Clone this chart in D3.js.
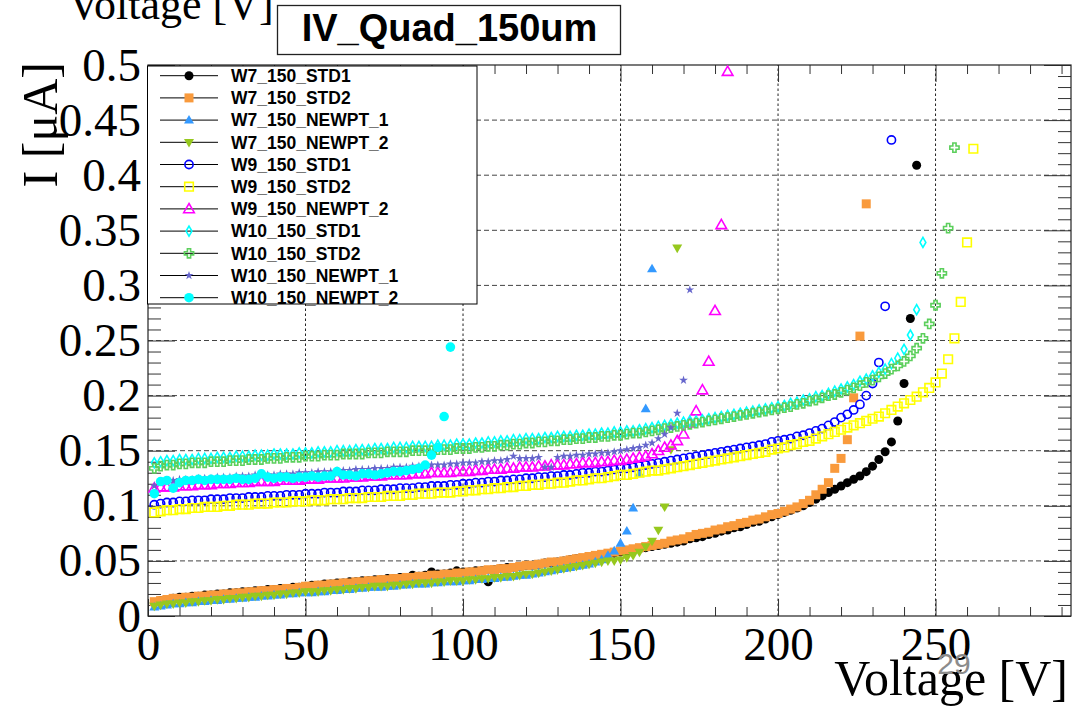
<!DOCTYPE html>
<html>
<head>
<meta charset="utf-8">
<script src="https://cdn.jsdelivr.net/npm/d3@7"></script>
<style>
  html, body { margin: 0; padding: 0; background: #fff; }
  svg { display: block; }
</style>
</head>
<body>
<svg id="chart" width="1077" height="707"></svg>
<script>
// ---- data: bias voltage steps [V] and leakage current [uA] per sensor ----
const voltages = [2,4,6,8,10,12,14,16,18,20,22,24,26,28,30,32,34,36,38,40,42,44,46,48,50,52,54,56,58,60,62,64,66,68,70,72,74,76,78,80,82,84,86,88,90,92,94,96,98,100,102,104,106,108,110,112,114,116,118,120,122,124,126,128,130,132,134,136,138,140,142,144,146,148,150,152,154,156,158,160,162,164,166,168,170,172,174,176,178,180,182,184,186,188,190,192,194,196,198,200,202,204,206,208,210,212,214,216,218,220,222,224,226,228,230,232,234,236,238,240,242,244,246,248,250,252,254,256,258,260,262];

const seriesNames = ["W7_150_STD1","W7_150_STD2","W7_150_NEWPT_1","W7_150_NEWPT_2","W9_150_STD1","W9_150_STD2","W9_150_NEWPT_2","W10_150_STD1","W10_150_STD2","W10_150_NEWPT_1","W10_150_NEWPT_2"];

const w7Std1 = [
  .012,.014,.015,.016,.017,.017,.018,.018,.019,.019,
  .020,.020,.021,.021,.022,.022,.023,.023,.024,.024,
  .025,.025,.026,.026,.027,.028,.028,.029,.029,.030,
  .030,.031,.031,.032,.032,.033,.033,.034,.034,.035,
  .035,.037,.036,.037,.040,.038,.038,.039,.041,.040,
  .040,.041,.041,.031,.042,.043,.044,.044,.045,.046,
  .046,.047,.048,.048,.049,.050,.051,.052,.052,.053,
  .054,.055,.056,.057,.058,.059,.060,.061,.062,.063,
  .064,.065,.066,.067,.068,.070,.071,.072,.074,.075,
  .077,.078,.080,.081,.083,.085,.086,.088,.090,.092,
  .094,.096,.098,.100,.103,.106,.109,.112,.115,.118,
  .121,.124,.127,.131,.136,.142,.149,.158,.177,.211,
  .270,.409];

const w7Std2 = [
  .013,.014,.015,.016,.016,.017,.017,.018,.018,.019,
  .019,.020,.020,.021,.021,.022,.022,.023,.023,.024,
  .024,.025,.025,.026,.027,.027,.028,.028,.029,.029,
  .030,.030,.031,.031,.032,.032,.033,.033,.034,.034,
  .035,.035,.036,.036,.037,.037,.038,.038,.039,.039,
  .040,.040,.041,.042,.042,.043,.043,.044,.045,.046,
  .046,.047,.048,.049,.049,.050,.051,.052,.053,.054,
  .055,.056,.057,.058,.059,.060,.061,.062,.063,.064,
  .065,.066,.068,.069,.070,.072,.074,.075,.076,.078,
  .079,.081,.082,.084,.085,.087,.088,.090,.092,.093,
  .095,.097,.099,.102,.105,.110,.115,.121,.134,.143,
  .160,.198,.254,.374];

const w7Newpt1 = [
  .008,.009,.010,.011,.011,.012,.012,.013,.013,.014,
  .014,.015,.015,.016,.016,.017,.017,.018,.018,.019,
  .019,.020,.020,.021,.021,.021,.022,.022,.023,.023,
  .024,.024,.025,.025,.026,.026,.026,.027,.027,.028,
  .028,.029,.029,.029,.030,.030,.031,.031,.031,.032,
  .032,.033,.033,.034,.034,.035,.035,.036,.037,.037,
  .038,.039,.040,.041,.042,.043,.044,.045,.046,.047,
  .049,.051,.055,.059,.066,.077,.098,.129,.188,.315];

const w7Newpt2 = [
  .009,.010,.011,.011,.012,.012,.013,.013,.014,.014,
  .015,.015,.016,.016,.017,.017,.018,.018,.019,.019,
  .020,.020,.021,.021,.022,.022,.022,.023,.023,.024,
  .024,.025,.025,.026,.026,.027,.027,.027,.028,.028,
  .029,.029,.030,.030,.030,.031,.031,.032,.032,.032,
  .033,.033,.034,.034,.035,.035,.036,.036,.037,.038,
  .038,.039,.040,.041,.042,.043,.044,.045,.046,.047,
  .048,.049,.050,.050,.051,.053,.055,.058,.063,.068,
  .078,.099,.151,.334];

const w9Std1 = [
  .101,.102,.103,.103,.104,.104,.105,.105,.105,.106,
  .106,.106,.107,.107,.107,.108,.108,.108,.109,.109,
  .109,.110,.110,.110,.111,.111,.111,.112,.112,.112,
  .113,.113,.113,.114,.114,.114,.115,.115,.115,.116,
  .116,.116,.117,.117,.118,.118,.118,.119,.119,.120,
  .120,.121,.121,.122,.122,.123,.123,.124,.124,.125,
  .125,.126,.126,.127,.127,.128,.128,.129,.130,.130,
  .131,.131,.132,.133,.134,.134,.135,.136,.137,.138,
  .139,.140,.141,.142,.143,.144,.145,.146,.147,.148,
  .149,.150,.151,.152,.153,.154,.155,.156,.158,.159,
  .160,.161,.163,.164,.166,.168,.170,.173,.176,.180,
  .183,.187,.192,.200,.211,.230,.281,.432];

const w9Std2 = [
  .094,.095,.096,.096,.097,.097,.098,.098,.099,.099,
  .099,.100,.100,.101,.101,.101,.102,.102,.102,.103,
  .103,.103,.104,.104,.104,.105,.105,.105,.106,.106,
  .106,.107,.107,.107,.108,.108,.108,.109,.109,.109,
  .110,.110,.111,.111,.111,.112,.112,.112,.113,.113,
  .114,.114,.115,.115,.116,.116,.117,.117,.118,.118,
  .119,.119,.120,.120,.121,.121,.122,.123,.123,.124,
  .125,.125,.126,.127,.128,.128,.129,.130,.131,.132,
  .132,.133,.134,.135,.136,.137,.138,.139,.140,.141,
  .142,.143,.144,.145,.146,.147,.148,.149,.151,.152,
  .153,.155,.156,.158,.159,.161,.163,.165,.167,.169,
  .171,.173,.175,.177,.179,.181,.184,.187,.190,.193,
  .196,.199,.203,.207,.212,.220,.233,.252,.285,.339,
  .424];

const w9Newpt2 = [
  .116,.117,.117,.117,.118,.118,.118,.119,.119,.119,
  .120,.120,.120,.121,.121,.121,.122,.122,.122,.122,
  .123,.123,.123,.123,.124,.124,.124,.125,.125,.125,
  .125,.126,.126,.126,.127,.127,.127,.128,.128,.128,
  .128,.129,.129,.129,.130,.130,.130,.130,.131,.131,
  .131,.132,.132,.133,.133,.133,.134,.134,.135,.135,
  .135,.136,.136,.137,.137,.137,.138,.138,.139,.139,
  .139,.140,.140,.141,.141,.142,.143,.144,.145,.147,
  .150,.153,.155,.159,.165,.175,.186,.205,.231,.277,
  .355,.494];

const w10Std1 = [
  .139,.140,.141,.141,.142,.142,.142,.143,.143,.143,
  .144,.144,.144,.145,.145,.145,.146,.146,.146,.147,
  .147,.147,.147,.148,.148,.148,.149,.149,.149,.150,
  .150,.150,.151,.151,.151,.152,.152,.152,.153,.153,
  .153,.154,.154,.154,.154,.155,.155,.155,.156,.156,
  .156,.157,.157,.158,.158,.159,.159,.160,.160,.161,
  .161,.161,.162,.162,.163,.163,.163,.164,.164,.165,
  .165,.166,.166,.167,.167,.168,.168,.169,.170,.171,
  .172,.173,.174,.175,.176,.177,.177,.178,.179,.180,
  .181,.182,.183,.184,.185,.186,.187,.188,.189,.190,
  .191,.193,.194,.196,.197,.199,.200,.202,.204,.206,
  .208,.210,.213,.215,.218,.221,.224,.229,.234,.242,
  .255,.278,.339];

const w10Std2 = [
  .134,.136,.137,.137,.138,.138,.139,.139,.139,.140,
  .140,.140,.141,.141,.141,.142,.142,.142,.143,.143,
  .143,.144,.144,.144,.145,.145,.145,.146,.146,.146,
  .147,.147,.147,.147,.148,.148,.148,.149,.149,.149,
  .149,.150,.150,.150,.150,.151,.151,.151,.152,.152,
  .152,.153,.153,.154,.154,.155,.155,.156,.156,.157,
  .157,.158,.158,.159,.159,.160,.160,.161,.161,.162,
  .162,.163,.163,.164,.164,.165,.166,.166,.167,.168,
  .169,.170,.171,.172,.173,.174,.175,.176,.177,.178,
  .179,.180,.181,.182,.183,.184,.185,.186,.187,.188,
  .189,.190,.192,.193,.195,.196,.198,.200,.201,.203,
  .205,.207,.209,.212,.214,.217,.220,.224,.227,.231,
  .236,.243,.252,.265,.282,.311,.352,.425];

const w10Newpt1 = [
  .118,.122,.123,.123,.124,.124,.124,.125,.125,.125,
  .126,.126,.126,.127,.127,.127,.128,.128,.128,.128,
  .129,.129,.129,.130,.130,.130,.131,.131,.131,.132,
  .132,.132,.133,.133,.133,.134,.134,.134,.135,.135,
  .135,.136,.136,.136,.137,.137,.137,.138,.138,.139,
  .139,.139,.140,.140,.141,.141,.142,.145,.143,.143,
  .143,.144,.135,.135,.144,.145,.145,.146,.146,.147,
  .147,.148,.148,.149,.150,.151,.152,.153,.155,.157,
  .161,.165,.171,.184,.214,.296];

const w10Newpt2 = [
  .111,.122,.123,.116,.121,.123,.123,.124,.123,.124,
  .124,.124,.124,.125,.124,.124,.125,.129,.126,.125,
  .126,.126,.125,.126,.126,.127,.126,.127,.127,.131,
  .128,.128,.127,.129,.129,.128,.129,.130,.131,.131,
  .132,.133,.134,.137,.146,.153,.181,.244];

const seriesCurrents = [w7Std1, w7Std2, w7Newpt1, w7Newpt2, w9Std1, w9Std2, w9Newpt2, w10Std1, w10Std2, w10Newpt1, w10Newpt2];

const xMajorTicks = [0, 50, 100, 150, 200, 250];
const xTickLabels = ["0", "50", "100", "150", "200", "250"];
const xMinorTicks = [10,20,30,40,60,70,80,90,110,120,130,140,160,170,180,190,210,220,230,240,260,270,280,290];
const yMajorTicks = [0, 0.05, 0.1, 0.15, 0.2, 0.25, 0.3, 0.35, 0.4, 0.45, 0.5];
const yTickLabels = ["0", "0.05", "0.1", "0.15", "0.2", "0.25", "0.3", "0.35", "0.4", "0.45", "0.5"];
const yMinorTicks = [];
for (let k = 1; k < 50; k++) if (k % 5 !== 0) yMinorTicks.push(k / 100);

// ---- marker styles ----
const seriesColors = ["#000000", "#f99a3c", "#3399ff", "#96c81e", "#0000ff", "#ffff00", "#ff00ff", "#00ffff", "#5ccf5c", "#6666cc", "#00ffff"];
const seriesShapes = ["fullCircle", "fullSquare", "fullTriUp", "fullTriDown", "openCircle", "openSquare", "openTriUp", "openDiamond", "openCross", "fullStar", "bigCircle"];

const markerGeom = {
  fullCircle:  { d: d3.symbol(d3.symbolCircle, Math.PI * 4.5 * 4.5)(), filled: true },
  bigCircle:   { d: d3.symbol(d3.symbolCircle, Math.PI * 4.8 * 4.8)(), filled: true },
  fullSquare:  { d: "M-4.5,-4.5h9v9h-9z", filled: true },
  fullTriUp:   { d: "M0,-5.2L5,3.4L-5,3.4Z", filled: true },
  fullTriDown: { d: "M0,5.2L5,-3.4L-5,-3.4Z", filled: true },
  openCircle:  { d: d3.symbol(d3.symbolCircle, Math.PI * 4.1 * 4.1)(), filled: false },
  openSquare:  { d: "M-4.3,-4.3h8.6v8.6h-8.6z", filled: false },
  openTriUp:   { d: "M0,-5.4L5.3,3.8L-5.3,3.8Z", filled: false },
  openDiamond: { d: "M0,-5L2.9,0L0,5L-2.9,0Z", filled: false },
  openCross:   { d: "M-1.6,-4.6H1.6V-1.6H4.6V1.6H1.6V4.6H-1.6V1.6H-4.6V-1.6H-1.6Z", filled: false },
  fullStar:    { d: d3.symbol(d3.symbolStar, 24)(), filled: true }
};

function styleMarker(sel, shape, color) {
  const g = markerGeom[shape];
  sel.attr("d", g.d)
    .attr("fill", g.filled ? color : "none")
    .attr("stroke", g.filled ? "none" : color)
    .attr("stroke-width", g.filled ? 0 : 1.6);
}

// ---- layout ----
const svg = d3.select("#chart");
const x = d3.scaleLinear().domain([0, 293]).range([148, 1071]);
const y = d3.scaleLinear().domain([0, 0.5]).range([616, 65]);
const serif = "'Liberation Serif', 'Times New Roman', serif";
const sans = "'Liberation Sans', Arial, Helvetica, sans-serif";

svg.append("rect").attr("width", 1077).attr("height", 707).attr("fill", "#fff");

// grid
const grid = svg.append("g");
grid.selectAll("line.gx").data(xMajorTicks.filter(d => d > 0)).join("line")
  .attr("x1", d => x(d)).attr("x2", d => x(d))
  .attr("y1", y(0)).attr("y2", y(0.5))
  .attr("stroke", "#222").attr("stroke-width", 1).attr("stroke-dasharray", "2.5,2.5");
grid.selectAll("line.gy").data(yMajorTicks.filter(d => d > 0 && d < 0.5)).join("line")
  .attr("x1", x(0)).attr("x2", x(293))
  .attr("y1", d => y(d)).attr("y2", d => y(d))
  .attr("stroke", "#444").attr("stroke-width", 1).attr("stroke-dasharray", "5,3");

// axes (ticks drawn inward, ROOT style)
function cleanAxis(g) {
  g.select(".domain").remove();
  g.selectAll(".tick line").attr("stroke", "#333").attr("stroke-width", 1);
}
const bottomMajor = svg.append("g").attr("transform", `translate(0,${y(0)})`)
  .call(d3.axisBottom(x).tickValues(xMajorTicks).tickSize(-17).tickPadding(11)
    .tickFormat((d, i) => xTickLabels[i]));
cleanAxis(bottomMajor);
bottomMajor.selectAll(".tick text").attr("font-family", serif).attr("font-size", 47).attr("fill", "#000");

svg.append("g").attr("transform", `translate(0,${y(0)})`)
  .call(d3.axisBottom(x).tickValues(xMinorTicks).tickSize(-9).tickFormat(""))
  .call(cleanAxis);
svg.append("g").attr("transform", `translate(0,${y(0.5)})`)
  .call(d3.axisTop(x).tickValues(xMajorTicks).tickSize(-17).tickFormat(""))
  .call(cleanAxis);
svg.append("g").attr("transform", `translate(0,${y(0.5)})`)
  .call(d3.axisTop(x).tickValues(xMinorTicks).tickSize(-9).tickFormat(""))
  .call(cleanAxis);

const leftMajor = svg.append("g").attr("transform", `translate(${x(0)},0)`)
  .call(d3.axisLeft(y).tickValues(yMajorTicks).tickSize(-27).tickPadding(7)
    .tickFormat((d, i) => yTickLabels[i]));
cleanAxis(leftMajor);
leftMajor.selectAll(".tick text").attr("font-family", serif).attr("font-size", 47).attr("fill", "#000");

svg.append("g").attr("transform", `translate(${x(0)},0)`)
  .call(d3.axisLeft(y).tickValues(yMinorTicks).tickSize(-13).tickFormat(""))
  .call(cleanAxis);
svg.append("g").attr("transform", `translate(${x(293)},0)`)
  .call(d3.axisRight(y).tickValues(yMajorTicks).tickSize(-27).tickFormat(""))
  .call(cleanAxis);
svg.append("g").attr("transform", `translate(${x(293)},0)`)
  .call(d3.axisRight(y).tickValues(yMinorTicks).tickSize(-13).tickFormat(""))
  .call(cleanAxis);

// frame
svg.append("rect")
  .attr("x", x(0)).attr("y", y(0.5))
  .attr("width", x(293) - x(0)).attr("height", y(0) - y(0.5))
  .attr("fill", "none").attr("stroke", "#222").attr("stroke-width", 1.2);

// data points
const plot = svg.append("g");
seriesCurrents.forEach((vals, s) => {
  plot.append("g").selectAll("path").data(vals).join("path")
    .attr("transform", (d, i) => `translate(${x(voltages[i])},${y(d)})`)
    .call(styleMarker, seriesShapes[s], seriesColors[s]);
});

// legend
const legend = svg.append("g");
legend.append("rect").attr("x", 147.5).attr("y", 66).attr("width", 329.5).attr("height", 238)
  .attr("fill", "#fff").attr("stroke", "#000").attr("stroke-width", 1);
seriesNames.forEach((name, s) => {
  const cy = 75.7 + s * 22.2;
  legend.append("line").attr("x1", 160).attr("x2", 218).attr("y1", cy).attr("y2", cy)
    .attr("stroke", "#000").attr("stroke-width", 1);
  legend.append("path").attr("transform", `translate(189,${cy})`)
    .call(styleMarker, seriesShapes[s], seriesColors[s]);
  legend.append("text").attr("x", 231).attr("y", cy + 6.3)
    .attr("font-family", sans).attr("font-weight", "bold").attr("font-size", 17.5)
    .attr("fill", "#000").text(name);
});

// axis titles
svg.append("text").attr("x", 1068).attr("y", 695).attr("text-anchor", "end")
  .attr("font-family", serif).attr("font-size", 50).attr("fill", "#000").text("Voltage [V]");
svg.append("text").attr("transform", "translate(57,62) rotate(-90)").attr("text-anchor", "end")
  .attr("font-family", serif).attr("font-size", 50).attr("fill", "#000").text("I [μA]");
svg.append("text").attr("x", 68).attr("y", 19)
  .attr("font-family", serif).attr("font-size", 44).attr("fill", "#000").text("Voltage [V]");

// title box
svg.append("rect").attr("x", 277.5).attr("y", 5.5).attr("width", 343).attr("height", 49)
  .attr("fill", "#fff").attr("stroke", "#222").attr("stroke-width", 1.3);
svg.append("text").attr("x", 449.5).attr("y", 41).attr("text-anchor", "middle")
  .attr("font-family", sans).attr("font-weight", "bold").attr("font-size", 38)
  .attr("fill", "#000").text("IV_Quad_150um");

// page number
svg.append("text").attr("x", 954).attr("y", 674).attr("text-anchor", "middle")
  .attr("font-family", sans).attr("font-size", 30).attr("fill", "#8c8c8c").text("29");
</script>
</body>
</html>
